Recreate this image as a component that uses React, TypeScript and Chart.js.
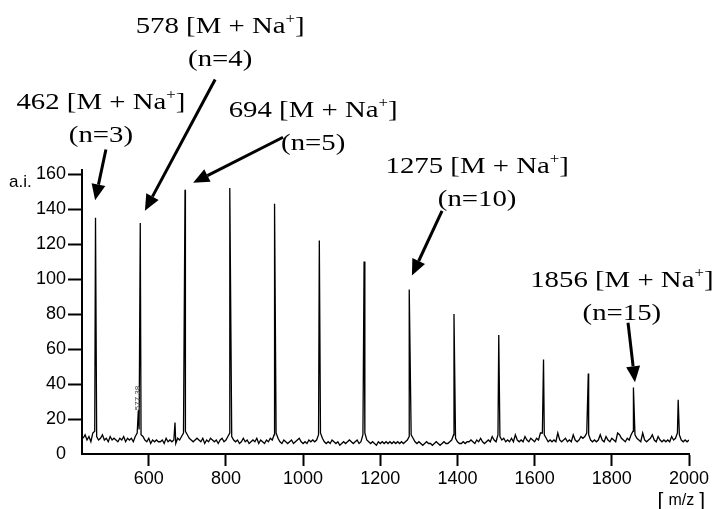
import { useEffect, useRef } from "react";
import { Chart, registerables } from "chart.js";

Chart.register(...registerables);

// Axis ranges and tick values
const MZ_MIN = 427;
const MZ_MAX = 2000;
const AI_MAX = 162.3;
const xTicks = [600, 800, 1000, 1200, 1400, 1600, 1800, 2000];
const yTicks = [0, 20, 40, 60, 80, 100, 120, 140, 160];

// Baseline trace (a.i.), sampled every 5 m/z starting at 430
const baselineStart = 430;
const baselineStep = 5;
const baseline = [
  9, 11, 8, 10, 7, 12, 13, 10, 8, 9, 11, 8, 9, 7, 10, 8, 9, 8, 7, 9,
  8, 10, 7, 9, 8, 9, 7, 10, 12, 14, 11, 10, 8, 7, 9, 6, 8, 7, 8, 7,
  7, 8, 6, 9, 7, 8, 7, 8, 6, 9, 8, 10, 12, 13, 11, 9, 8, 7, 8, 9,
  8, 7, 9, 6, 8, 7, 9, 8, 7, 8, 6, 8, 9, 7, 8, 10, 12, 10, 8, 7,
  8, 6, 7, 9, 7, 8, 6, 7, 8, 7, 9, 6, 8, 7, 6, 8, 7, 9, 8, 11,
  12, 9, 7, 6, 8, 7, 6, 7, 8, 6, 7, 8, 9, 7, 6, 7, 6, 8, 7, 8,
  7, 8, 11, 12, 9, 7, 6, 7, 6, 8, 7, 6, 7, 5, 6, 7, 6, 7, 8, 7,
  6, 7, 8, 6, 7, 11, 12, 8, 7, 6, 7, 6, 5, 7, 6, 7, 6, 7, 6, 7,
  6, 7, 6, 7, 6, 7, 6, 7, 8, 10, 11, 9, 7, 6, 7, 6, 5, 6, 7, 6,
  6, 5, 6, 7, 6, 5, 6, 7, 6, 6, 7, 8, 11, 9, 7, 6, 6, 7, 6, 7,
  7, 8, 7, 6, 8, 7, 9, 7, 6, 7, 8, 7, 10, 8, 7, 11, 10, 8, 9, 7,
  8, 7, 9, 7, 11, 8, 7, 8, 7, 10, 8, 7, 9, 8, 7, 9, 8, 12, 12, 11,
  9, 7, 8, 7, 8, 7, 12, 8, 7, 8, 9, 7, 8, 7, 11, 8, 7, 8, 10, 9,
  10, 12, 11, 8, 7, 8, 7, 8, 11, 8, 7, 10, 8, 7, 9, 8, 7, 12, 11, 9,
  8, 7, 9, 8, 11, 13, 11, 9, 8, 7, 12, 8, 7, 8, 9, 11, 8, 7, 10, 8,
  7, 8, 7, 8, 7, 10, 8, 9, 12, 11, 8, 7, 8, 7, 8,
];

// [M + Na+] series, n = 3 ... 16
const peakMz = [462, 578, 694, 810, 926, 1042, 1158, 1275, 1391, 1507, 1623, 1739, 1856, 1972];
const peakHeight = [135, 132, 151, 152, 143, 122, 110, 94, 80, 68, 54, 46, 38, 31];

// small side peaks
const minorMz = [573, 668];
const minorHeight = [25, 18];

// labelled peaks: polymer length n, label centre, arrow tail and tip (m/z, a.i.)
const notedPeaks = [462, 578, 694, 1275, 1856];
const notedN = [3, 4, 5, 10, 15];
const noteLabelAt = [[476, 202], [785, 245], [1026, 197], [1451, 165], [1826, 100]];
const noteTailAt = [[489, 174], [772, 214], [948, 181], [1360, 139], [1842, 75]];
const noteTipAt = [[461, 145], [590, 139], [715, 155], [1282, 102], [1860, 41]];

const SERIF = '"Liberation Serif", "Times New Roman", serif';
const SANS = '"Liberation Sans", Arial, sans-serif';

function buildSpectrum() {
  const pts = baseline.map((v, i) => ({ x: baselineStart + i * baselineStep, y: v }));
  peakMz.forEach((mz, i) => pts.push({ x: mz, y: peakHeight[i] }));
  minorMz.forEach((mz, i) => pts.push({ x: mz, y: minorHeight[i] }));
  pts.sort((a, b) => a.x - b.x);
  return pts;
}

function drawIonLabel(ctx: CanvasRenderingContext2D, cx: number, cy: number, mz: number, n: number) {
  const sx = 1.2;
  const main = `${mz} [M + Na`;
  const close = "]";
  ctx.save();
  ctx.fillStyle = "#000";
  ctx.textBaseline = "alphabetic";
  ctx.textAlign = "left";
  ctx.font = `24px ${SERIF}`;
  const wMain = ctx.measureText(main).width;
  const wClose = ctx.measureText(close).width;
  ctx.font = `14px ${SERIF}`;
  const wSup = ctx.measureText("+").width;
  const total = wMain + wSup + wClose;

  ctx.translate(cx, cy);
  ctx.scale(sx, 1);
  const base = 8;
  let x0 = -total / 2;
  ctx.font = `24px ${SERIF}`;
  ctx.fillText(main, x0, base);
  x0 += wMain;
  ctx.font = `14px ${SERIF}`;
  ctx.fillText("+", x0, base - 10);
  x0 += wSup;
  ctx.font = `24px ${SERIF}`;
  ctx.fillText(close, x0, base);

  const second = `(n=${n})`;
  const w2 = ctx.measureText(second).width;
  ctx.fillText(second, -w2 / 2, base + 33);
  ctx.restore();
}

function drawArrow(ctx: CanvasRenderingContext2D, x1: number, y1: number, x2: number, y2: number) {
  const headLen = 16;
  const headHalf = 7;
  const ang = Math.atan2(y2 - y1, x2 - x1);
  const bx = x2 - headLen * Math.cos(ang);
  const by = y2 - headLen * Math.sin(ang);
  ctx.save();
  ctx.strokeStyle = "#000";
  ctx.fillStyle = "#000";
  ctx.lineWidth = 3;
  ctx.beginPath();
  ctx.moveTo(x1, y1);
  ctx.lineTo(bx, by);
  ctx.stroke();
  ctx.beginPath();
  ctx.moveTo(x2, y2);
  ctx.lineTo(bx + headHalf * Math.sin(ang), by - headHalf * Math.cos(ang));
  ctx.lineTo(bx - headHalf * Math.sin(ang), by + headHalf * Math.cos(ang));
  ctx.closePath();
  ctx.fill();
  ctx.restore();
}

const spectrumNotes = {
  id: "spectrumNotes",
  afterDraw(chart: any) {
    const { ctx, chartArea } = chart;
    const xs = chart.scales.x;
    const ys = chart.scales.y;
    const px = (v: number) => xs.getPixelForValue(v);
    const py = (v: number) => ys.getPixelForValue(v);

    notedPeaks.forEach((mz, i) => {
      drawIonLabel(ctx, px(noteLabelAt[i][0]), py(noteLabelAt[i][1]), mz, notedN[i]);
      drawArrow(ctx, px(noteTailAt[i][0]), py(noteTailAt[i][1]), px(noteTipAt[i][0]), py(noteTipAt[i][1]));
    });

    ctx.save();
    ctx.fillStyle = "#000";
    ctx.textBaseline = "middle";
    // y axis unit
    ctx.font = `17px ${SANS}`;
    ctx.textAlign = "left";
    ctx.fillText("a.i.", 9, py(160) + 8);
    // x axis unit: thin tall brackets around m/z
    const ux = chartArea.right + 16;
    const uy = 501;
    ctx.textAlign = "right";
    ctx.font = `21px ${SANS}`;
    const wb = ctx.measureText("]").width;
    ctx.fillText("]", ux, uy);
    ctx.font = `16px ${SANS}`;
    const wm = ctx.measureText("m/z").width;
    ctx.fillText("m/z", ux - wb - 5, uy);
    ctx.font = `21px ${SANS}`;
    ctx.fillText("[", ux - wb - 5 - wm - 5, uy);
    // instrument peak tag
    ctx.translate(px(572), py(32));
    ctx.rotate(-Math.PI / 2);
    ctx.font = `8px ${SANS}`;
    ctx.fillStyle = "#444";
    ctx.textAlign = "center";
    ctx.fillText("577.38", 0, 0);
    ctx.restore();
  },
};

export default function App() {
  const canvasRef = useRef<HTMLCanvasElement | null>(null);

  useEffect(() => {
    const canvas = canvasRef.current;
    if (!canvas) return;
    const chart = new Chart(canvas, {
      type: "line",
      data: {
        datasets: [
          {
            data: buildSpectrum(),
            borderColor: "#000",
            borderWidth: 1.3,
            pointRadius: 0,
            tension: 0,
            fill: false,
          },
        ],
      },
      options: {
        responsive: false,
        animation: false,
        events: [],
        layout: { padding: { top: 170, right: 26, bottom: 0, left: 0 } },
        plugins: { legend: { display: false }, tooltip: { enabled: false } },
        scales: {
          x: {
            type: "linear",
            min: MZ_MIN,
            max: MZ_MAX,
            afterBuildTicks: (s: any) => {
              s.ticks = xTicks.map((v) => ({ value: v }));
            },
            afterFit: (s: any) => {
              s.height = 55;
            },
            grid: { drawOnChartArea: false, drawTicks: true, tickLength: 12, tickWidth: 2, tickColor: "#000" },
            border: { display: true, color: "#000", width: 2 },
            ticks: {
              color: "#000",
              font: { family: SANS, size: 18 },
              padding: 2,
              maxRotation: 0,
              callback: (v: any) => String(v),
            },
          },
          y: {
            type: "linear",
            min: 0,
            max: AI_MAX,
            afterBuildTicks: (s: any) => {
              s.ticks = yTicks.map((v) => ({ value: v }));
            },
            afterFit: (s: any) => {
              s.width = 82;
            },
            grid: {
              drawOnChartArea: false,
              drawTicks: true,
              tickLength: 14,
              tickWidth: 2,
              tickColor: (c: any) => (c.tick && c.tick.value === 0 ? "rgba(0,0,0,0)" : "#000"),
            },
            border: { display: true, color: "#000", width: 2 },
            ticks: {
              color: "#000",
              font: { family: SANS, size: 18 },
              padding: 2,
              callback: (v: any) => String(v),
            },
          },
        },
      },
      plugins: [spectrumNotes],
    });
    return () => chart.destroy();
  }, []);

  return (
    <div style={{ position: "fixed", left: 0, top: 0, width: 715, height: 509, background: "#fff" }}>
      <canvas ref={canvasRef} width={715} height={509} style={{ display: "block" }} />
    </div>
  );
}
